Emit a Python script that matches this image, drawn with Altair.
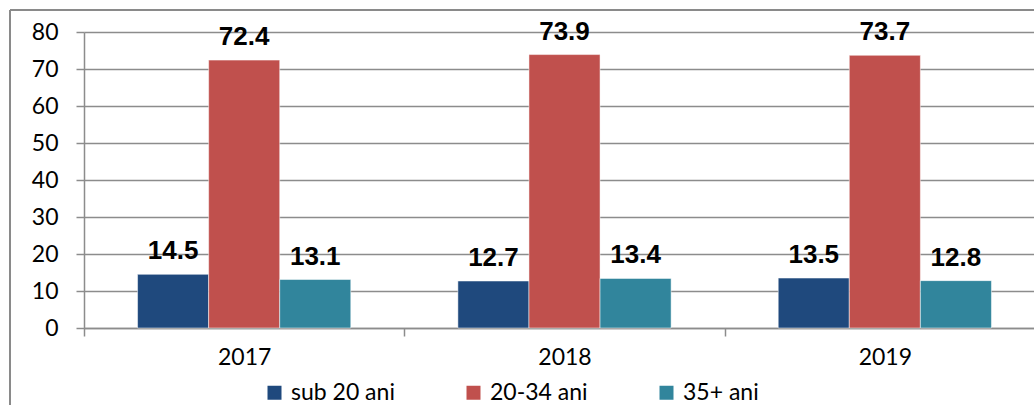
import altair as alt
import pandas as pd

years = ["2017", "2018", "2019"]
groups = ["sub 20 ani", "20-34 ani", "35+ ani"]
sub20 = [14.5, 12.7, 13.5]
age20_34 = [72.4, 73.9, 73.7]
age35 = [13.1, 13.4, 12.8]
colors = ["#1F497D", "#C0504D", "#31859C"]
y_ticks = [0, 10, 20, 30, 40, 50, 60, 70, 80]

rows = []
for series_name, vals in zip(groups, [sub20, age20_34, age35]):
    for yr, v in zip(years, vals):
        rows.append({"year": yr, "group": series_name, "value": v})
df = pd.DataFrame(rows)

GRID = "#8C8C8C"

x_enc = alt.X("year:N", sort=years, title=None,
              scale=alt.Scale(paddingInner=0, paddingOuter=0, range=[0, 961]),
              axis=alt.Axis(labelAngle=0, tickBand="extent", grid=False, tickSize=8,
                            labelPadding=10, labelFont="Lato", labelFontSize=23,
                            labelColor="#000000", domainColor=GRID, tickColor=GRID,
                            domainWidth=1.5, tickWidth=1.5))
xoff = alt.XOffset("group:N", sort=groups,
                   scale=alt.Scale(paddingInner=0, paddingOuter=0.7535))
y_enc = alt.Y("value:Q", title=None,
              scale=alt.Scale(domain=[0, 80], nice=False),
              axis=alt.Axis(values=y_ticks, grid=True, gridColor=GRID, gridWidth=1.5,
                            labelOverlap=False, tickSize=8, tickColor=GRID, tickWidth=1.5,
                            domainColor=GRID, domainWidth=1.5, labelPadding=18,
                            labelFont="Lato", labelFontSize=23, labelColor="#000000"))

base = alt.Chart(df)
bars = base.mark_bar(stroke="white", strokeWidth=0.5).encode(
    x=x_enc, xOffset=xoff, y=y_enc,
    color=alt.Color("group:N", sort=groups, title=None,
                    scale=alt.Scale(domain=groups, range=colors),
                    legend=alt.Legend(orient="none", direction="horizontal", legendX=179,
                                      legendY=349, symbolType="square", symbolSize=196,
                                      symbolStrokeWidth=0, labelFont="Lato", labelFontSize=23,
                                      labelColor="#000000", labelOffset=5, columnPadding=67,
                                      padding=0, labelLimit=300)),
)
labels = base.mark_text(font="Liberation Sans", fontSize=26, fontWeight="bold",
                        color="#000000", baseline="alphabetic", dy=-15).encode(
    x=x_enc, xOffset=xoff, y=y_enc,
    text=alt.Text("value:Q", format=".1f"),
)

frame_data = alt.Data(values=[{"k": 1}])
frame_top = alt.Chart(frame_data).mark_rule(color="#8A8A8A", strokeWidth=2).encode(
    x=alt.value(-74), x2=alt.value(980), y=alt.value(-22))
frame_left = alt.Chart(frame_data).mark_rule(color="#8A8A8A", strokeWidth=2).encode(
    x=alt.value(-74), y=alt.value(-22), y2=alt.value(420))

chart = alt.layer(frame_top, frame_left, bars, labels).properties(
    width=950, height=296,
    autosize=alt.AutoSizeParams(type="none"),
    padding={"left": 84, "top": 32, "right": 0, "bottom": 77},
    background="white",
).configure_view(stroke="transparent")

chart.save("out.html", embed_options={"renderer": "svg", "actions": False})
